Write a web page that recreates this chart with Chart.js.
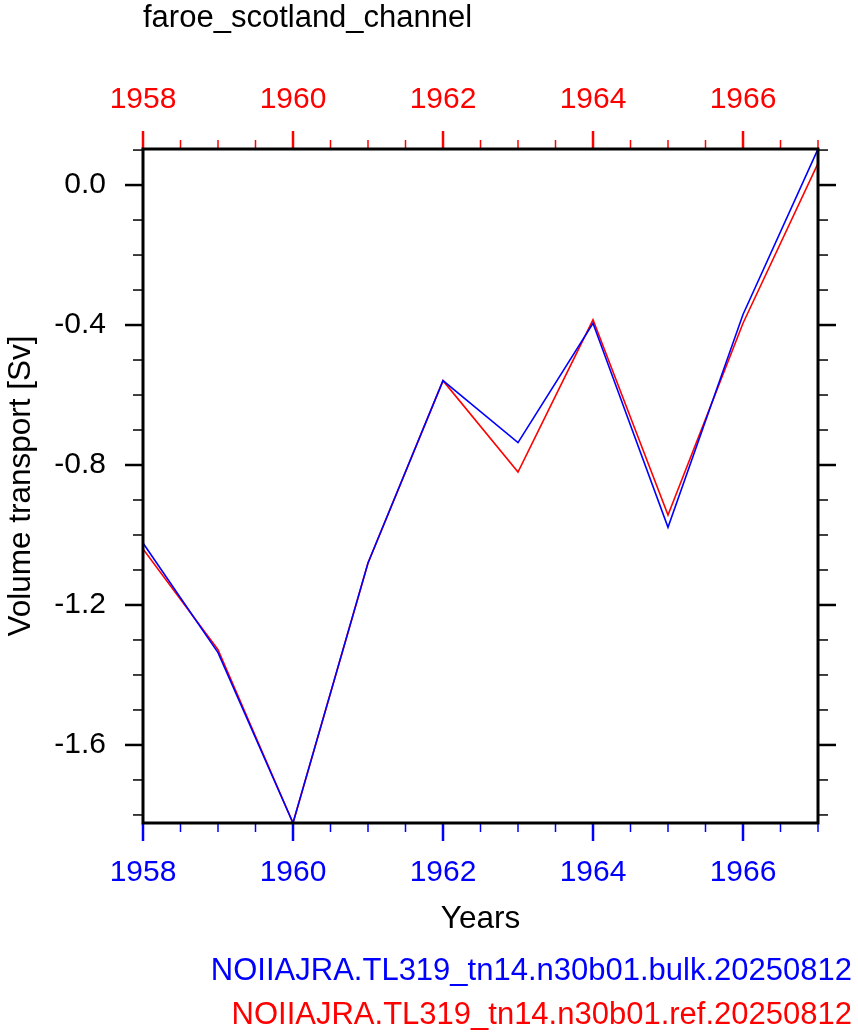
<!DOCTYPE html>
<html>
<head>
<meta charset="utf-8">
<script src="https://cdn.jsdelivr.net/npm/chart.js@4"></script>
<style>
  html, body { margin: 0; padding: 0; background: #fff; }
  #wrap { width: 858px; height: 1035px; position: relative; }
</style>
</head>
<body>
<div id="wrap"><canvas id="c" width="858" height="1035"></canvas></div>
<script>
// ---- data ----
const years = [1958, 1959, 1960, 1961, 1962, 1963, 1964, 1965, 1966, 1967];
const bulk  = [-1.023, -1.336, -1.823, -1.080, -0.559, -0.736, -0.395, -0.978, -0.370, 0.103];
const ref   = [-1.040, -1.328, -1.823, -1.080, -0.559, -0.820, -0.385, -0.943, -0.395, 0.062];
const xTickLabels = [1958, 1960, 1962, 1964, 1966];
const yTickLabels = [-1.6, -1.2, -0.8, -0.4, 0.0];
const titleText = "faroe_scotland_channel";
const xTitle = "Years";
const yTitle = "Volume transport [Sv]";
const bulkName = "NOIIAJRA.TL319_tn14.n30b01.bulk.20250812";
const refName  = "NOIIAJRA.TL319_tn14.n30b01.ref.20250812";

const FONT = "'Liberation Sans', Arial, Helvetica, sans-serif";
const BLUE = '#0000ff', RED = '#ff0000';

const xMin = 1958, xMax = 1967, yMin = -1.823, yMax = 0.103;

const decorPlugin = {
  id: 'decor',
  afterDraw(chart) {
    const ctx = chart.ctx;
    const a = chart.chartArea;
    const xs = chart.scales.x, ys = chart.scales.y;
    ctx.save();
    function vline(x, y1, y2, color, w) {
      ctx.strokeStyle = color; ctx.lineWidth = w;
      ctx.beginPath(); ctx.moveTo(x, y1); ctx.lineTo(x, y2); ctx.stroke();
    }
    function hline(y, x1, x2, color, w) {
      ctx.strokeStyle = color; ctx.lineWidth = w;
      ctx.beginPath(); ctx.moveTo(x1, y); ctx.lineTo(x2, y); ctx.stroke();
    }
    for (let v = xMin; v <= xMax + 1e-6; v += 0.5) {
      const px = xs.getPixelForValue(v);
      const major = xTickLabels.includes(v);
      const len = major ? 18 : 9;
      vline(px, a.bottom, a.bottom + len, BLUE, major ? 2.5 : 1.5);
      vline(px, a.top, a.top - (major ? 18 : 9), RED, major ? 2.5 : 1.5);
    }
    for (let k = -18; k <= 1; k++) {
      const v = k / 10;
      const py = ys.getPixelForValue(v);
      if (py < a.top - 0.5 || py > a.bottom + 0.5) continue;
      const major = (k % 4 === 0);
      const len = major ? 18 : 10;
      hline(py, a.left, a.left - len, '#000', major ? 2.5 : 1.5);
      hline(py, a.right, a.right + len, '#000', major ? 2.5 : 1.5);
    }
    ctx.strokeStyle = '#000'; ctx.lineWidth = 3;
    ctx.strokeRect(a.left, a.top, a.right - a.left, a.bottom - a.top);

    ctx.fillStyle = '#000';
    ctx.textBaseline = 'alphabetic';
    ctx.font = `31px ${FONT}`;
    ctx.textAlign = 'left';
    ctx.fillText(titleText, 143, 27);
    ctx.textAlign = 'center';
    ctx.font = `31.5px ${FONT}`;
    ctx.fillText(xTitle, (a.left + a.right) / 2, 928);
    ctx.save();
    ctx.translate(30, (a.top + a.bottom) / 2);
    ctx.rotate(-Math.PI / 2);
    ctx.fillText(yTitle, 0, 0);
    ctx.restore();
    ctx.textAlign = 'right';
    ctx.font = `31px ${FONT}`;
    ctx.fillStyle = BLUE;
    ctx.fillText(bulkName, 852, 980);
    ctx.fillStyle = RED;
    ctx.fillText(refName, 852, 1024);
    ctx.restore();
  }
};

new Chart(document.getElementById('c'), {
  type: 'line',
  data: {
    datasets: [
      { label: bulkName, data: years.map((x, i) => ({ x, y: bulk[i] })), borderColor: BLUE, borderWidth: 1.6, pointRadius: 0, tension: 0, xAxisID: 'x', yAxisID: 'y' },
      { label: refName,  data: years.map((x, i) => ({ x, y: ref[i] })),  borderColor: RED,  borderWidth: 1.6, pointRadius: 0, tension: 0, xAxisID: 'x', yAxisID: 'y' }
    ]
  },
  options: {
    responsive: false,
    animation: false,
    events: [],
    layout: { padding: { left: 0, right: 40, top: 0, bottom: 0 } },
    plugins: { legend: { display: false }, title: { display: false }, tooltip: { enabled: false } },
    scales: {
      x: {
        type: 'linear', position: 'bottom', min: xMin, max: xMax,
        grid: { display: false, drawTicks: false }, border: { display: false },
        afterBuildTicks: s => { s.ticks = xTickLabels.map(v => ({ value: v })); },
        afterFit: s => { s.height = 212; },
        ticks: { color: BLUE, padding: 32, maxRotation: 0, autoSkip: false, font: { family: FONT, size: 30 }, callback: v => String(v) }
      },
      x2: {
        type: 'linear', position: 'top', min: xMin, max: xMax,
        grid: { display: false, drawTicks: false }, border: { display: false },
        afterBuildTicks: s => { s.ticks = xTickLabels.map(v => ({ value: v })); },
        afterFit: s => { s.height = 149; },
        ticks: { color: RED, padding: 31, maxRotation: 0, autoSkip: false, font: { family: FONT, size: 30 }, callback: v => String(v) }
      },
      y: {
        type: 'linear', position: 'left', min: yMin, max: yMax,
        grid: { display: false, drawTicks: false }, border: { display: false },
        afterBuildTicks: s => { s.ticks = yTickLabels.map(v => ({ value: v })); },
        afterFit: s => { s.width = 143; },
        ticks: { color: '#000', padding: 37, autoSkip: false, font: { family: FONT, size: 30 }, callback: v => (Math.abs(v) < 1e-9 ? 0 : v).toFixed(1) }
      }
    }
  },
  plugins: [decorPlugin]
});
</script>
</body>
</html>
